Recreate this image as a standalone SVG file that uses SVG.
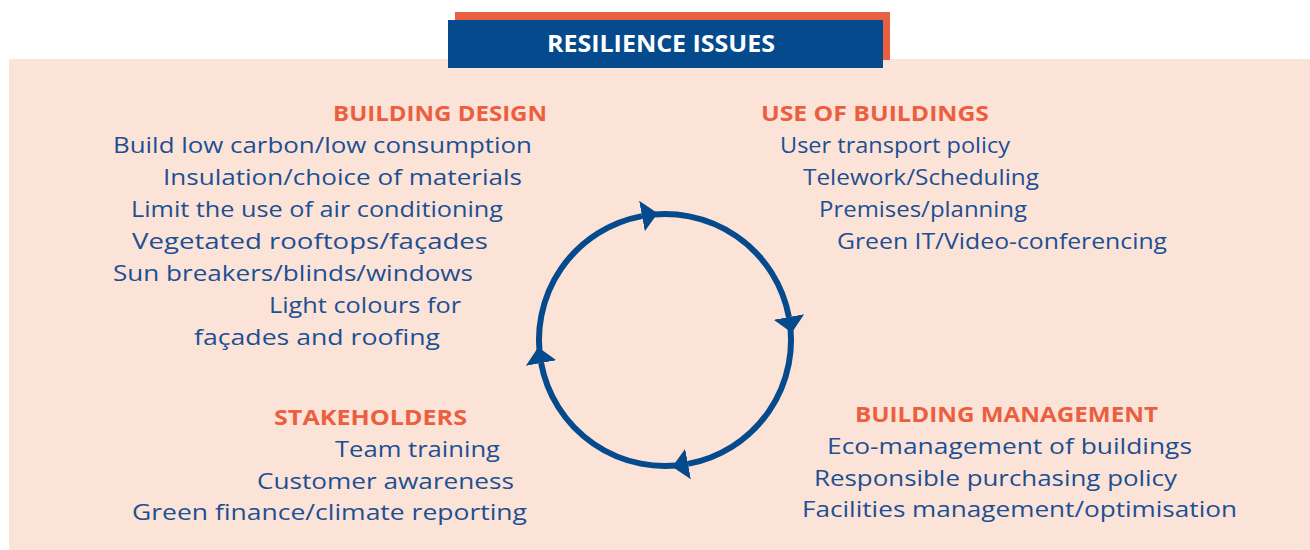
<svg xmlns="http://www.w3.org/2000/svg" width="1310" height="550" viewBox="0 0 1310 550">
  <style>
    .item { font-family: "Open Sans", "Noto Sans", sans-serif; font-size: 22px; fill: #1d4f93; }
    .head { font-family: "Open Sans", "Noto Sans", sans-serif; font-size: 22px; font-weight: 700; fill: #eb5f3f; }
    .title { font-family: "Open Sans", "Noto Sans", sans-serif; font-size: 24px; font-weight: 700; fill: #ffffff; }
    .cycle { fill: none; stroke: #054a8c; stroke-width: 6; marker-end: url(#arrow); }
  </style>
  <defs>
    <marker id="arrow" markerUnits="userSpaceOnUse" viewBox="0 -17 20 34" refX="0" refY="0" markerWidth="20" markerHeight="34" orient="auto">
      <path d="M0,-15.5 L16,0 L0,15.5 Z" fill="#054a8c"/>
    </marker>
  </defs>

  <!-- panel background -->
  <rect x="9" y="59" width="1301" height="491" fill="#fce3d8"/>

  <!-- title banner -->
  <g id="title">
    <rect x="455" y="12" width="435" height="48" fill="#e8603f"/>
    <rect x="448" y="20" width="435" height="48" fill="#054a8c"/>
    <text class="title" x="547" y="52" textLength="228" lengthAdjust="spacingAndGlyphs">RESILIENCE ISSUES</text>
  </g>

  <!-- cycle connectors -->
  <g id="connectors">
    <path class="cycle" d="M541.1,363 A126,126 0 0 1 642,216.1"/>
    <path class="cycle" d="M642,216.1 A126,126 0 0 1 788.9,317"/>
    <path class="cycle" d="M788.9,317 A126,126 0 0 1 688,463.9"/>
    <path class="cycle" d="M688,463.9 A126,126 0 0 1 541.1,363"/>
  </g>

  <g id="building-design">
    <text class="head" x="333" y="121" textLength="214" lengthAdjust="spacingAndGlyphs">BUILDING DESIGN</text>
    <text class="item" x="113" y="153" textLength="419" lengthAdjust="spacingAndGlyphs">Build low carbon/low consumption</text>
    <text class="item" x="163" y="185" textLength="359" lengthAdjust="spacingAndGlyphs">Insulation/choice of materials</text>
    <text class="item" x="131" y="217" textLength="372" lengthAdjust="spacingAndGlyphs">Limit the use of air conditioning</text>
    <text class="item" x="132" y="249" textLength="356" lengthAdjust="spacingAndGlyphs">Vegetated rooftops/façades</text>
    <text class="item" x="113" y="281" textLength="360" lengthAdjust="spacingAndGlyphs">Sun breakers/blinds/windows</text>
    <text class="item" x="269" y="313" textLength="192" lengthAdjust="spacingAndGlyphs">Light colours for</text>
    <text class="item" x="194" y="345" textLength="246" lengthAdjust="spacingAndGlyphs">façades and roofing</text>
  </g>

  <g id="use-of-buildings">
    <text class="head" x="761" y="121" textLength="228" lengthAdjust="spacingAndGlyphs">USE OF BUILDINGS</text>
    <text class="item" x="780" y="153" textLength="230" lengthAdjust="spacingAndGlyphs">User transport policy</text>
    <text class="item" x="803" y="185" textLength="236" lengthAdjust="spacingAndGlyphs">Telework/Scheduling</text>
    <text class="item" x="819" y="217" textLength="208" lengthAdjust="spacingAndGlyphs">Premises/planning</text>
    <text class="item" x="837" y="249" textLength="330" lengthAdjust="spacingAndGlyphs">Green IT/Video-conferencing</text>
  </g>

  <g id="stakeholders">
    <text class="head" x="274" y="425" textLength="193" lengthAdjust="spacingAndGlyphs">STAKEHOLDERS</text>
    <text class="item" x="335" y="457" textLength="165" lengthAdjust="spacingAndGlyphs">Team training</text>
    <text class="item" x="257" y="489" textLength="257" lengthAdjust="spacingAndGlyphs">Customer awareness</text>
    <text class="item" x="132" y="520" textLength="395" lengthAdjust="spacingAndGlyphs">Green finance/climate reporting</text>
  </g>

  <g id="building-management">
    <text class="head" x="855" y="422" textLength="303" lengthAdjust="spacingAndGlyphs">BUILDING MANAGEMENT</text>
    <text class="item" x="827" y="454" textLength="365" lengthAdjust="spacingAndGlyphs">Eco-management of buildings</text>
    <text class="item" x="814" y="486" textLength="363" lengthAdjust="spacingAndGlyphs">Responsible purchasing policy</text>
    <text class="item" x="802" y="517" textLength="435" lengthAdjust="spacingAndGlyphs">Facilities management/optimisation</text>
  </g>
</svg>
